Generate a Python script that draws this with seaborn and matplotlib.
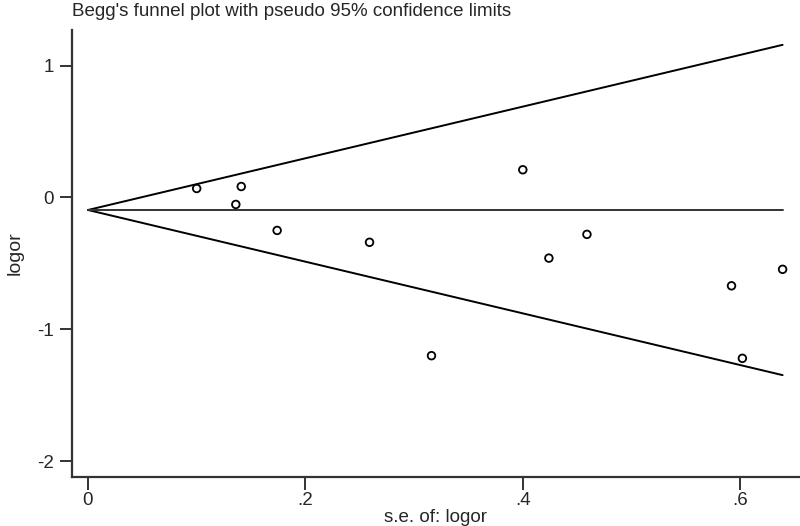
import numpy as np
import pandas as pd
import matplotlib
matplotlib.use("Agg")
import matplotlib.pyplot as plt
import seaborn as sns

# dati (errore standard e log odds ratio per studio)
se = [0.100, 0.141, 0.136, 0.174, 0.259, 0.316, 0.400, 0.424, 0.459, 0.592, 0.602, 0.639]
logor = [0.068, 0.083, -0.053, -0.25, -0.34, -1.20, 0.21, -0.46, -0.28, -0.67, -1.22, -0.545]
pooled = -0.095  # stima combinata (linea orizzontale)

xticks = [0, 0.2, 0.4, 0.6]
xticklabels = ["0", ".2", ".4", ".6"]
yticks = [-2, -1, 0, 1]
yticklabels = ["-2", "-1", "0", "1"]

df = pd.DataFrame({"se": se, "logor": logor})

sns.set_style("ticks")
plt.rcParams["font.family"] = ["Liberation Sans", "DejaVu Sans"]

fig = plt.figure(figsize=(8, 5.26), dpi=100)
ax = fig.add_axes([72 / 800, 49 / 526, 728 / 800, 447 / 526])

# limiti di confidenza pseudo 95%
smax = max(se)
xs = np.array([0, smax])
ax.plot(xs, pooled + 1.96 * xs, color="black", lw=1.4)
ax.plot(xs, pooled - 1.96 * xs, color="black", lw=1.4)
ax.plot(xs, [pooled, pooled], color="#333333", lw=1.4)

sns.scatterplot(data=df, x="se", y="logor", ax=ax, marker="o", s=30,
                facecolor="none", edgecolor="black", linewidth=1.3, zorder=3)

ax.set_xlim(-0.0147, 0.655)
ax.set_ylim(-2.12, 1.27)
ax.set_xticks(xticks)
ax.set_xticklabels(xticklabels)
ax.set_yticks(yticks)
ax.set_yticklabels(yticklabels)
ax.tick_params(axis="both", length=9, width=1.4, color="#333333", labelsize=13.5)
ax.tick_params(axis="x", pad=1.5)
ax.tick_params(axis="y", pad=4)
for side in ["left", "bottom"]:
    ax.spines[side].set_linewidth(1.6)
    ax.spines[side].set_color("#333333")
sns.despine(ax=ax)

ax.set_xlabel("s.e. of: logor", fontsize=13.5, labelpad=0)
ax.set_ylabel("logor", fontsize=14, labelpad=10)
fig.text(72 / 800, 1 - 11 / 526, "Begg's funnel plot with pseudo 95% confidence limits",
         fontsize=13.5, ha="left", va="center")

fig.savefig("out.png", dpi=100)
plt.close(fig)
